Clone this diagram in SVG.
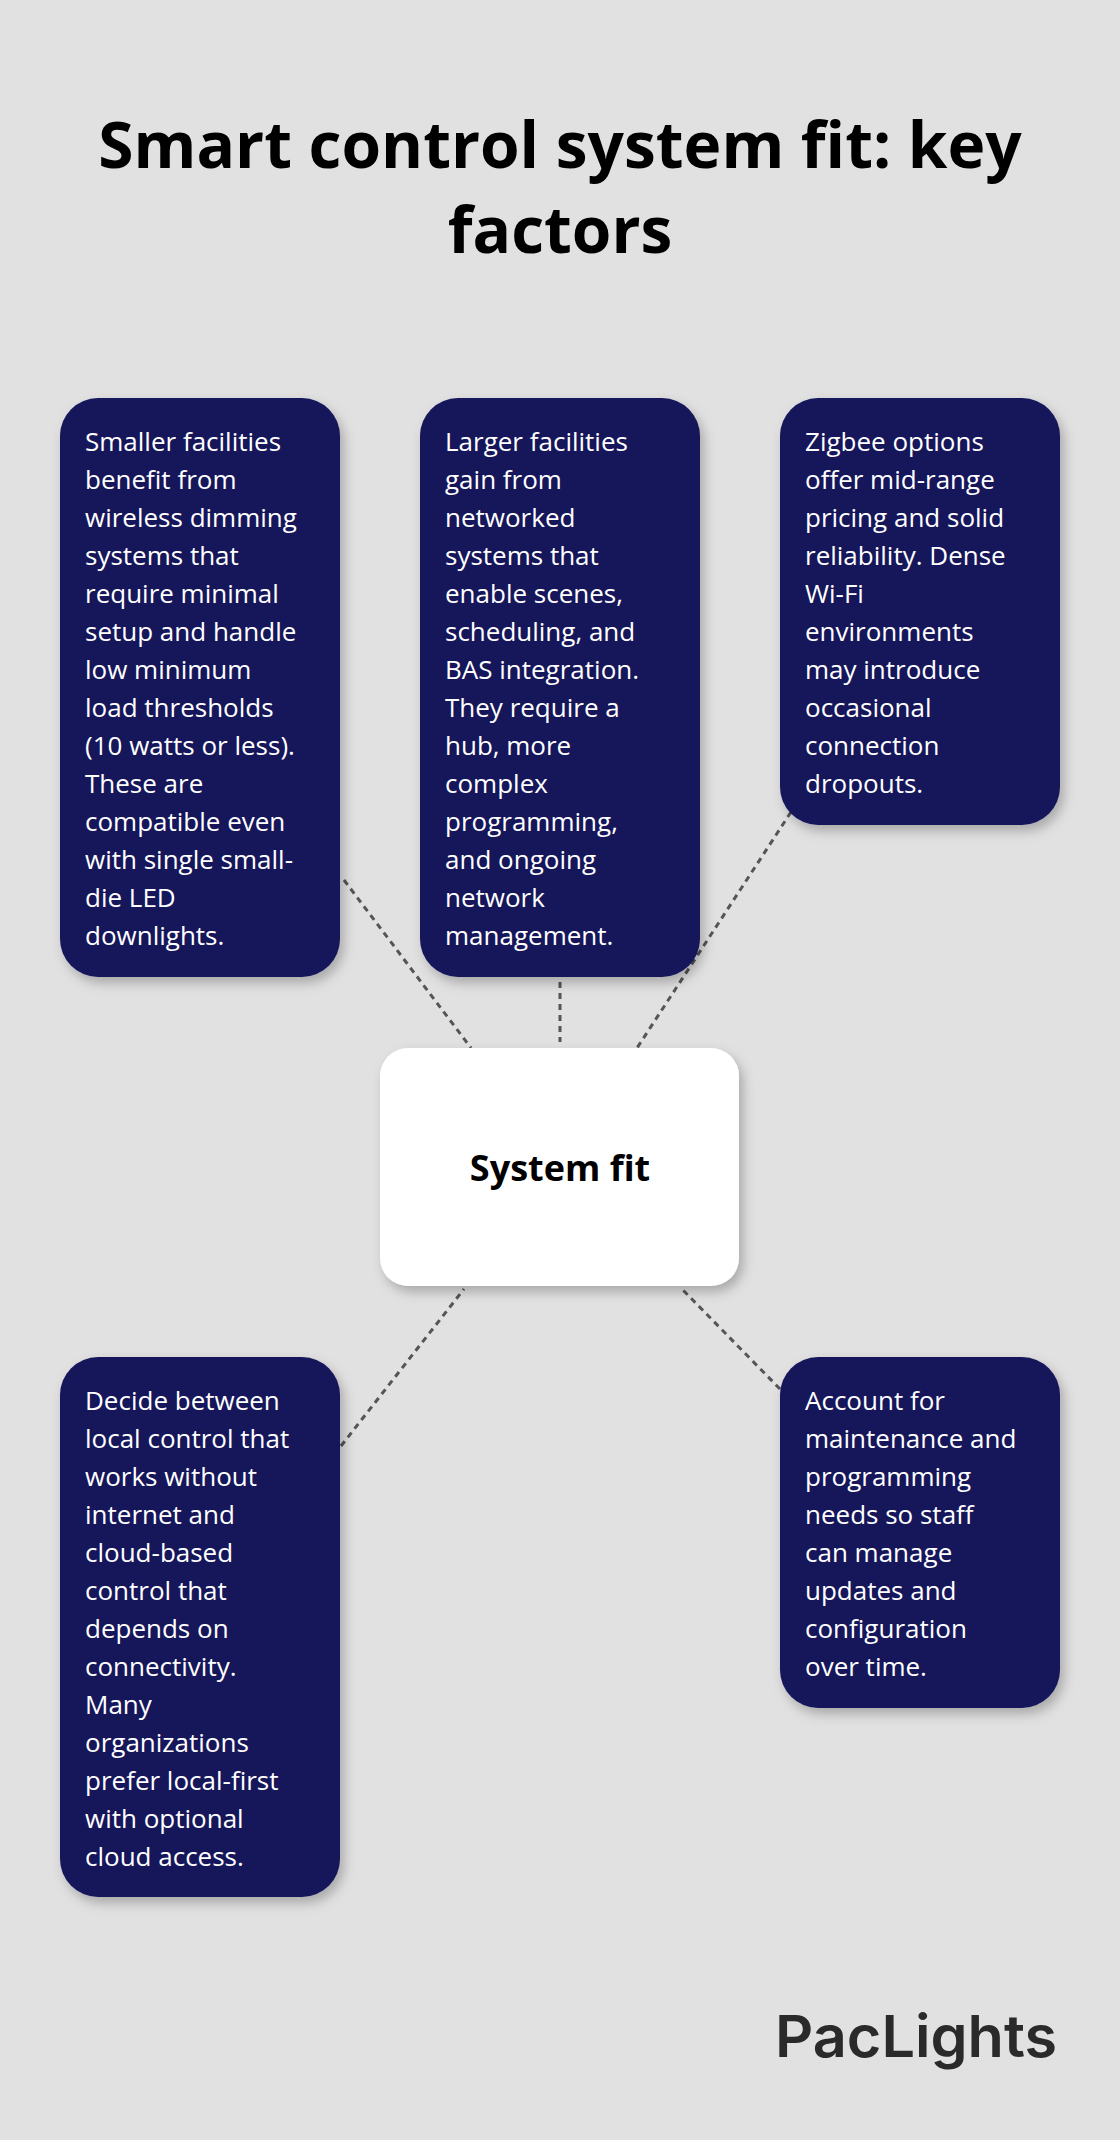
<svg xmlns="http://www.w3.org/2000/svg" width="1120" height="2140" viewBox="0 0 1120 2140">
<defs>
<style>
.t{font-family:"Open Sans","Noto Sans",sans-serif;font-weight:700;fill:#000}
.b{fill:#16155a}
.bt{font-family:"Open Sans","Noto Sans",sans-serif;font-size:26px;fill:#fff}
.c{stroke:#555;stroke-width:3;stroke-dasharray:6 5;fill:none}
</style>
<filter id="sh" x="-20%" y="-20%" width="140%" height="140%"><feDropShadow dx="4" dy="6" stdDeviation="6" flood-color="#000" flood-opacity="0.25"/></filter>
</defs>
<rect width="1120" height="2140" fill="#e0e1e0"/>
<text class="t" font-size="64" text-anchor="middle"><tspan x="560" y="168">Smart control system fit: key</tspan><tspan x="560" y="253">factors</tspan></text>
<g id="connectors">
<line class="c" x1="344" y1="880" x2="471" y2="1048"/>
<line class="c" x1="560" y1="982" x2="560" y2="1042"/>
<line class="c" x1="791" y1="812" x2="637" y2="1048"/>
<line class="c" x1="341" y1="1446" x2="464" y2="1289"/>
<line class="c" x1="780" y1="1389" x2="682" y2="1289"/>
</g>
<g id="center"><rect x="380" y="1048" width="359" height="238" rx="28" fill="#fff" filter="url(#sh)"/><text class="t" font-size="36" x="560" y="1181" text-anchor="middle">System fit</text></g>
<g id="n1"><rect class="b" x="60" y="398" width="280" height="579" rx="38" filter="url(#sh)"/>
<text class="bt"><tspan x="85" y="451">Smaller facilities</tspan><tspan x="85" y="489">benefit from</tspan><tspan x="85" y="527">wireless dimming</tspan><tspan x="85" y="565">systems that</tspan><tspan x="85" y="603">require minimal</tspan><tspan x="85" y="641">setup and handle</tspan><tspan x="85" y="679">low minimum</tspan><tspan x="85" y="717">load thresholds</tspan><tspan x="85" y="755">(10 watts or less).</tspan><tspan x="85" y="793">These are</tspan><tspan x="85" y="831">compatible even</tspan><tspan x="85" y="869">with single small-</tspan><tspan x="85" y="907">die LED</tspan><tspan x="85" y="945">downlights.</tspan></text></g>
<g id="n2"><rect class="b" x="420" y="398" width="280" height="579" rx="38" filter="url(#sh)"/>
<text class="bt"><tspan x="445" y="451">Larger facilities</tspan><tspan x="445" y="489">gain from</tspan><tspan x="445" y="527">networked</tspan><tspan x="445" y="565">systems that</tspan><tspan x="445" y="603">enable scenes,</tspan><tspan x="445" y="641">scheduling, and</tspan><tspan x="445" y="679">BAS integration.</tspan><tspan x="445" y="717">They require a</tspan><tspan x="445" y="755">hub, more</tspan><tspan x="445" y="793">complex</tspan><tspan x="445" y="831">programming,</tspan><tspan x="445" y="869">and ongoing</tspan><tspan x="445" y="907">network</tspan><tspan x="445" y="945">management.</tspan></text></g>
<g id="n3"><rect class="b" x="780" y="398" width="280" height="427" rx="38" filter="url(#sh)"/>
<text class="bt"><tspan x="805" y="451">Zigbee options</tspan><tspan x="805" y="489">offer mid-range</tspan><tspan x="805" y="527">pricing and solid</tspan><tspan x="805" y="565">reliability. Dense</tspan><tspan x="805" y="603">Wi-Fi</tspan><tspan x="805" y="641">environments</tspan><tspan x="805" y="679">may introduce</tspan><tspan x="805" y="717">occasional</tspan><tspan x="805" y="755">connection</tspan><tspan x="805" y="793">dropouts.</tspan></text></g>
<g id="n4"><rect class="b" x="60" y="1357" width="280" height="540" rx="38" filter="url(#sh)"/>
<text class="bt"><tspan x="85" y="1410">Decide between</tspan><tspan x="85" y="1448">local control that</tspan><tspan x="85" y="1486">works without</tspan><tspan x="85" y="1524">internet and</tspan><tspan x="85" y="1562">cloud-based</tspan><tspan x="85" y="1600">control that</tspan><tspan x="85" y="1638">depends on</tspan><tspan x="85" y="1676">connectivity.</tspan><tspan x="85" y="1714">Many</tspan><tspan x="85" y="1752">organizations</tspan><tspan x="85" y="1790">prefer local-first</tspan><tspan x="85" y="1828">with optional</tspan><tspan x="85" y="1866">cloud access.</tspan></text></g>
<g id="n5"><rect class="b" x="780" y="1357" width="280" height="351" rx="38" filter="url(#sh)"/>
<text class="bt"><tspan x="805" y="1410">Account for</tspan><tspan x="805" y="1448">maintenance and</tspan><tspan x="805" y="1486">programming</tspan><tspan x="805" y="1524">needs so staff</tspan><tspan x="805" y="1562">can manage</tspan><tspan x="805" y="1600">updates and</tspan><tspan x="805" y="1638">configuration</tspan><tspan x="805" y="1676">over time.</tspan></text></g>
<text x="775" y="2057" font-family="Inter,'Noto Sans',sans-serif" font-size="58" font-weight="600" fill="#2a2a2a" textLength="282" lengthAdjust="spacingAndGlyphs">PacLights</text>
</svg>
